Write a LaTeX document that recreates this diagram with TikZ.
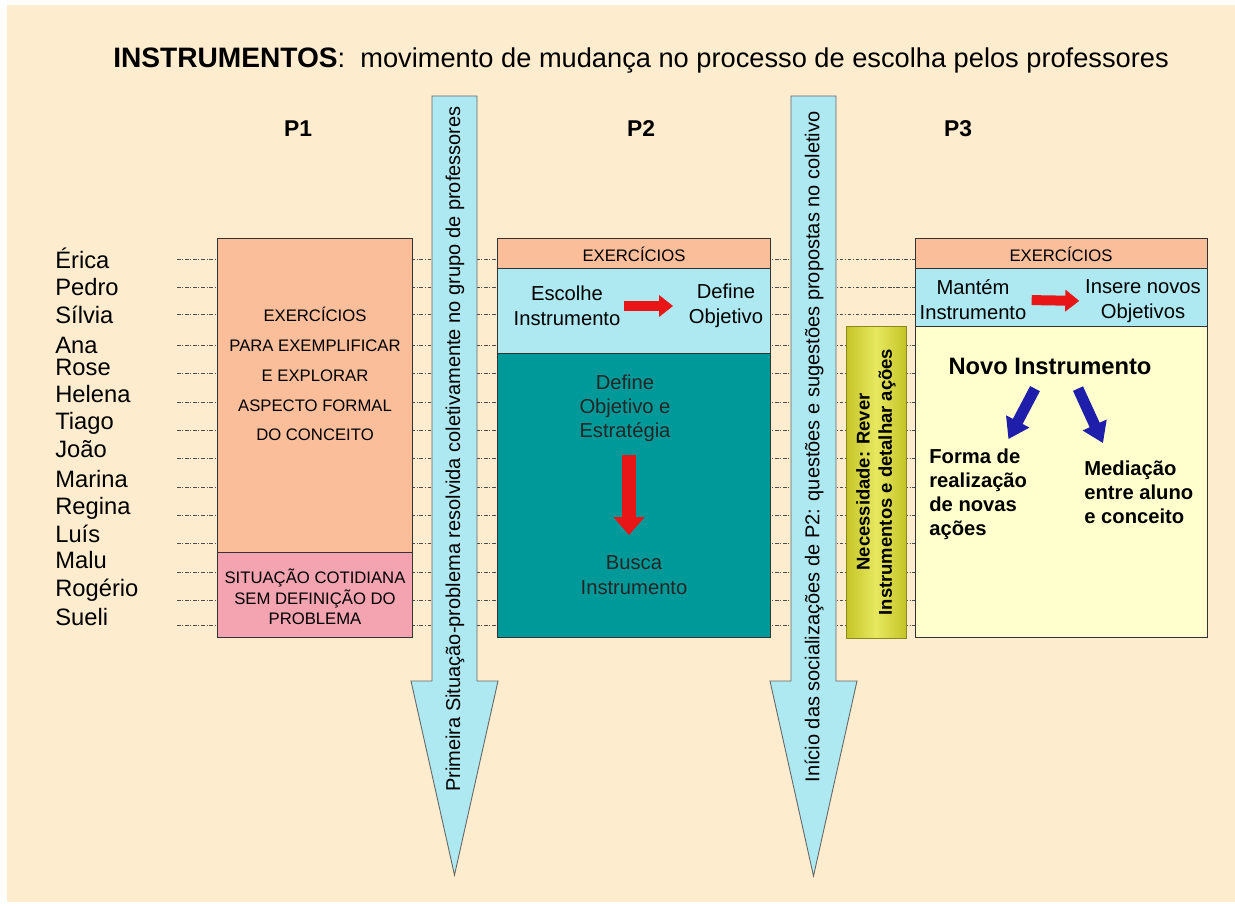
\documentclass[tikz,border=0pt]{standalone}
\usepackage{fontspec}
\setmainfont{Liberation Sans}
\usetikzlibrary{arrows.meta, calc}

\definecolor{peach}{RGB}{253,236,206}
\definecolor{salmon}{RGB}{251,190,155}
\definecolor{rosy}{RGB}{244,163,176}
\definecolor{skyband}{RGB}{174,233,242}
\definecolor{tealbox}{RGB}{0,153,153}
\definecolor{paleyel}{RGB}{255,255,206}
\definecolor{olivebar}{RGB}{196,196,40}
\definecolor{olivelight}{RGB}{232,232,96}
\definecolor{redarr}{RGB}{232,22,22}
\definecolor{bluearr}{RGB}{30,30,170}

\begin{document}
\begin{tikzpicture}[x=0.02cm, y=-0.02cm,
    box/.style={draw=black!80, line width=0.5pt},
    guide/.style={draw=black!70, line width=0.4pt, dash pattern=on 2pt off 1pt on 0.6pt off 1pt},
    bigarrow/.style={draw=black!60, fill=skyband, line width=0.5pt},
    boxtext/.style={align=center, inner sep=0pt, font=\fontsize{9.5}{11.6}\selectfont},
    midtext/.style={align=center, inner sep=0pt, font=\fontsize{11.5}{14.2}\selectfont},
    boldtext/.style={align=left, inner sep=0pt, font=\bfseries\fontsize{11.5}{13.7}\selectfont},
    redarrow/.style={draw=redarr, line width=0.2cm, -{Triangle[width=0.42cm, length=0.28cm]}},
    reddown/.style={draw=redarr, line width=0.28cm, -{Triangle[width=0.6cm, length=0.36cm]}},
    bluearrow/.style={draw=bluearr, line width=0.22cm, -{Triangle[width=0.5cm, length=0.4cm]}}
  ]
  \useasboundingbox (0,0) rectangle (1235,906);
  % Background
  \fill[white] (0,0) rectangle (1235,906);
  \fill[peach] (7,5) rectangle (1235,902);

  % Title and columns
  \node[anchor=base west, inner sep=0pt, font=\fontsize{15.5}{19}\selectfont] (title) at (113,67)
    {{\fontsize{16}{19}\selectfont\bfseries INSTRUMENTOS}:\ \ movimento de mudança no processo de escolha pelos professores};
  \node[font=\bfseries\fontsize{13}{15}\selectfont] (p1) at (298,129) {P1};
  \node[font=\bfseries\fontsize{13}{15}\selectfont] (p2) at (641,129) {P2};
  \node[font=\bfseries\fontsize{13}{15}\selectfont] (p3) at (958,129) {P3};

  % Teachers
  \foreach \nm/\yy [count=\i] in {Érica/268, Pedro/295, Sílvia/323, Ana/353, Rose/375, Helena/402, Tiago/429,
      João/457, Marina/487, Regina/514, Luís/542, Malu/568, Rogério/596, Sueli/625}
    \node[anchor=base west, inner sep=0pt, font=\fontsize{13.5}{16}\selectfont] (nm\i) at (55,\yy) {\nm};
  \foreach \yy in {259,287,314,345,373,402,430,458,487,515,543,572,600,625}
    \draw[guide] (177,\yy) -- (915,\yy);

  % P1
  \draw[box, fill=salmon] (217,238) rectangle (412,552);
  \draw[box, fill=rosy] (217,552) rectangle (412,637);
  \node[boxtext, font=\fontsize{9.5}{17}\selectfont] (p1ex) at (315,374)
    {EXERCÍCIOS\\PARA EXEMPLIFICAR\\E EXPLORAR\\ASPECTO FORMAL\\DO CONCEITO};
  \node[boxtext] (p1sit) at (315,597) {SITUAÇÃO COTIDIANA\\SEM DEFINIÇÃO DO\\PROBLEMA};

  % P2
  \draw[box, fill=salmon] (497,238) rectangle (770,268);
  \draw[box, fill=skyband] (497,268) rectangle (770,353);
  \draw[box, fill=tealbox] (497,353) rectangle (770,637);
  \node[boxtext] (ex2) at (634,254) {EXERCÍCIOS};
  \node[midtext] (esc) at (567,306) {Escolhe\\Instrumento};
  \node[midtext] (defo) at (726,306) {Define\\Objetivo};
  \draw[redarrow, shorten <=0.06cm, shorten >=0.31cm] (esc.east) -- (defo.west);
  \node[midtext, font=\fontsize{11.5}{13.7}\selectfont, text=black!85] (dobj) at (625,408)
    {Define\\Objetivo e\\Estratégia};
  \node[midtext, text=black!85] (busca) at (634,575) {Busca\\Instrumento};
  \draw[reddown, shorten <=0.26cm, shorten >=0.4cm] ([xshift=0.08cm]dobj.south) -- ([xshift=0.08cm]dobj.south |- busca.north);

  % P3
  \draw[box, fill=salmon] (915,238) rectangle (1207,268);
  \draw[box, fill=skyband] (915,268) rectangle (1207,326);
  \draw[box, fill=paleyel] (915,326) rectangle (1207,637);
  \node[boxtext] (ex3) at (1061,254) {EXERCÍCIOS};
  \node[midtext] (mant) at (973,300) {Mantém\\Instrumento};
  \node[midtext] (ins) at (1143,301) {Insere novos\\Objetivos};
  \draw[redarrow, shorten <=0.1cm, shorten >=0.11cm] (mant.east) -- (ins.west);
  \node[inner sep=0pt, font=\bfseries\fontsize{13.5}{16}\selectfont] (novo) at (1050,366) {Novo Instrumento};
  \node[boldtext, anchor=west] (forma) at (929,494) {Forma de\\realização\\de novas\\ações};
  \node[boldtext, anchor=west] (medi) at (1084,492) {Mediação\\entre aluno\\e conceito};
  \draw[bluearrow] ($(novo.south)+(-15,14)$) -- ($(forma.north east)+(-19,-9)$);
  \draw[bluearrow] ($(novo.south)+(28,14)$) -- ($(medi.north west)+(19,-17)$);

  % Need bar
  \shade[left color=olivebar, right color=olivebar, middle color=olivelight, draw=olivebar!70!black, line width=0.3pt]
    (846,326) rectangle (906,638);
  \node[rotate=90, align=center, inner sep=0pt, font=\bfseries\fontsize{10.5}{12.6}\selectfont] (need) at (876,482)
    {Necessidade: Rever\\Instrumentos e detalhar ações};

  % Big arrows
  \draw[bigarrow] (432,96) -- (477,96) -- (477,681) -- (498,681) -- (454.5,875) -- (411,681) -- (432,681) -- cycle;
  \draw[bigarrow] (791,96) -- (836,96) -- (836,681) -- (857,681) -- (813.5,876) -- (770,681) -- (791,681) -- cycle;
  \node[rotate=90, inner sep=0pt, font=\fontsize{11.4}{13}\selectfont] (sit1) at (455,449)
    {Primeira Situação-problema resolvida coletivamente no grupo de professores};
  \node[rotate=90, inner sep=0pt, font=\fontsize{11.4}{13}\selectfont] (soc2) at (814,447)
    {Início das socializações de P2: questões e sugestões propostas no coletivo};
\end{tikzpicture}
\end{document}
